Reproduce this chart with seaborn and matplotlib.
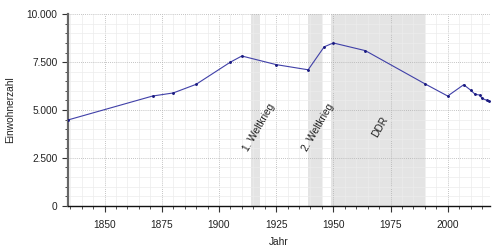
import matplotlib
matplotlib.use("Agg")
import matplotlib.pyplot as plt
import matplotlib.ticker as mticker
import seaborn as sns
import pandas as pd

years = [1834, 1871, 1880, 1890, 1905, 1910, 1925, 1939, 1946, 1950, 1964, 1990,
         2000, 2007, 2010, 2012, 2014, 2015, 2017, 2018]
population = [4480, 5730, 5890, 6340, 7500, 7820, 7370, 7100, 8300, 8500, 8100, 6370,
              5730, 6320, 6040, 5820, 5780, 5610, 5510, 5450]
periods = [(1914, 1918), (1939, 1945), (1949, 1990)]
period_labels = ["1. Weltkrieg", "2. Weltkrieg", "DDR"]
label_pos = [(1917.6, 4080), (1943.3, 4080), (1970.6, 4100)]

sns.set_theme(style="white")
plt.rcParams['font.family'] = ['Liberation Sans', 'DejaVu Sans']

df = pd.DataFrame({"Jahr": years, "Einwohnerzahl": population})

fig = plt.figure(figsize=(5, 2.5), dpi=100)
ax = fig.add_axes([0.136, 0.177, 0.844, 0.766])

for (a, b) in periods:
    ax.axvspan(a, b, color="#e4e4e4", zorder=0, lw=0)

sns.lineplot(data=df, x="Jahr", y="Einwohnerzahl", ax=ax, color="#4040a8", lw=0.8,
             marker="o", markersize=1.3, markerfacecolor="#1a1a80",
             markeredgecolor="#1a1a80", zorder=3)

for lab, (x, y) in zip(period_labels, label_pos):
    ax.text(x, y, lab, rotation=60, ha="center", va="center", fontsize=7.3, color="#222222")

ax.set_xlim(1834, 2018.5)
ax.set_ylim(0, 10000)
ax.xaxis.set_major_locator(mticker.MultipleLocator(25))
ax.xaxis.set_minor_locator(mticker.MultipleLocator(5))
ax.yaxis.set_major_locator(mticker.MultipleLocator(2500))
ax.yaxis.set_minor_locator(mticker.MultipleLocator(500))
ax.yaxis.set_major_formatter(mticker.FuncFormatter(lambda v, p: f"{int(v):,}".replace(",", ".")))

ax.grid(which="major", color="#b0b0b0", linestyle=(0, (1, 1.5)), lw=0.6, zorder=1)
ax.grid(which="minor", color="#ececec", linestyle="-", lw=0.5, zorder=1)
ax.set_axisbelow(True)

for s in ["top", "right"]:
    ax.spines[s].set_visible(False)
ax.spines["left"].set_color("#666666")
ax.spines["left"].set_linewidth(1.6)
ax.spines["bottom"].set_color("#111111")
ax.spines["bottom"].set_linewidth(1.0)

ax.tick_params(axis="both", which="major", direction="out", length=4, width=0.8,
               labelsize=7.3, color="#333333", labelcolor="#222222", bottom=True, left=True)
ax.tick_params(axis="both", which="minor", direction="out", length=2.5, width=0.6,
               color="#333333", bottom=True, left=True)
ax.tick_params(axis="x", which="major", pad=6)

ax.set_xlabel("Jahr", fontsize=7.3, color="#222222", labelpad=5)
ax.set_ylabel("Einwohnerzahl", fontsize=7.3, color="#222222", labelpad=8)

fig.savefig("out.png", dpi=100)
